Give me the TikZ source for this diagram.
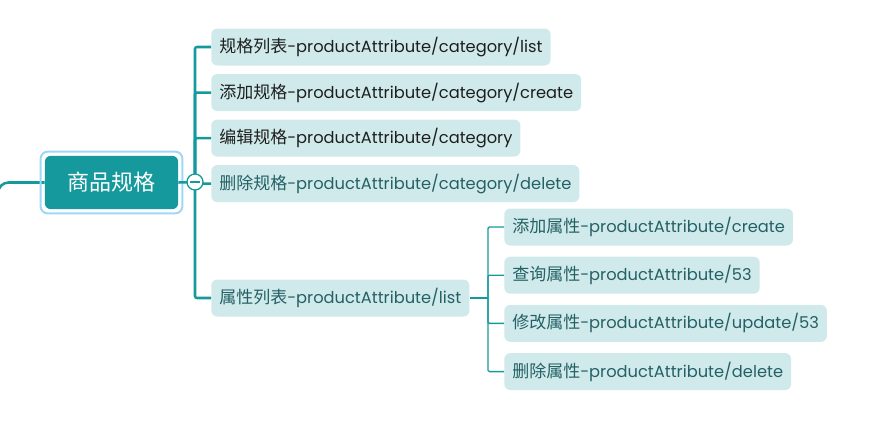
\documentclass[tikz,border=0pt]{standalone}
\usepackage{fontspec}
\setmainfont{Poppins}
\newfontfamily\zhfont{Noto Sans CJK SC}
\newcommand\zh[1]{{\zhfont\fontsize{12.75}{14}\selectfont #1}}
\usetikzlibrary{positioning}

\definecolor{mapteal}{RGB}{22,153,156}
\definecolor{leaffill}{RGB}{208,234,235}
\definecolor{selblue}{RGB}{158,216,246}
\definecolor{darktext}{RGB}{30,30,30}
\definecolor{lowtext}{RGB}{36,96,101}

\tikzset{
  topic/.style={rectangle, rounded corners=4.5pt, fill=mapteal, text=white,
    minimum width=100pt, minimum height=40pt, font=\zhfont\fontsize{16.5}{18}\selectfont},
  leaf/.style={rectangle, rounded corners=4.5pt, fill=leaffill, text=lowtext,
    minimum height=27.75pt, inner xsep=6pt, inner ysep=0pt, font=\fontsize{12.2}{14}\selectfont},
  trunk/.style={draw=mapteal, line width=1.9pt},
  twig/.style={draw=mapteal, line width=1pt},
}

\begin{document}
\begin{tikzpicture}[x=0.75pt,y=-0.75pt]
    \useasboundingbox (0,0) rectangle (896,432);

    % central topic
    \coordinate (inlet) at (-2,215);
    \node[topic] (root) at (111.5,182.5) {商品规格};
    \draw[trunk, rounded corners=8pt] (inlet) |- (root.west);
    \draw[selblue, line width=1.5pt, rounded corners=5.5pt]
        ([shift={(-4,-4)}]root.north west) rectangle ([shift={(4,4)}]root.south east);

    % first level
    \node[leaf, anchor=west, text=darktext] (c1) at (211,47) {\zh{规格列表}-productAttribute/category/list};
    \node[leaf, below=6pt of c1.south west, anchor=north west, text=darktext] (c2) {\zh{添加规格}-productAttribute/category/create};
    \node[leaf, below=6pt of c2.south west, anchor=north west, text=darktext] (c3) {\zh{编辑规格}-productAttribute/category};
    \node[leaf, below=6pt of c3.south west, anchor=north west] (c4) {\zh{删除规格}-productAttribute/category/delete};
    \node[leaf, anchor=west] (c5) at (211,298) {\zh{属性列表}-productAttribute/list};

    % second level
    \node[leaf, anchor=west] (s1) at (504,227) {\zh{添加属性}-productAttribute/create};
    \node[leaf, below=8pt of s1.south west, anchor=north west] (s2) {\zh{查询属性}-productAttribute/53};
    \node[leaf, below=8pt of s2.south west, anchor=north west] (s3) {\zh{修改属性}-productAttribute/update/53};
    \node[leaf, below=8pt of s3.south west, anchor=north west] (s4) {\zh{删除属性}-productAttribute/delete};

    \coordinate (hub) at (195,182);
    \coordinate (fork) at (488,298);
    \draw[trunk] (root.east) -- (hub);
    \foreach \c in {c1,c2,c3,c4,c5}
        \draw[trunk, rounded corners=1.5pt] (hub) |- (\c.west);
    \draw[twig] (c5.east) -- (fork);
    \foreach \s in {s1,s2,s3,s4}
        \draw[twig, rounded corners=1pt] (fork) |- (\s.west);

    % fold button
    \node[circle, draw=mapteal, fill=white, line width=1pt, minimum size=12pt, inner sep=0pt] (fold) at (hub) {};
    \draw[mapteal, line width=1pt] ([xshift=-3.6pt]fold.center) -- ([xshift=3.6pt]fold.center);
\end{tikzpicture}
\end{document}
